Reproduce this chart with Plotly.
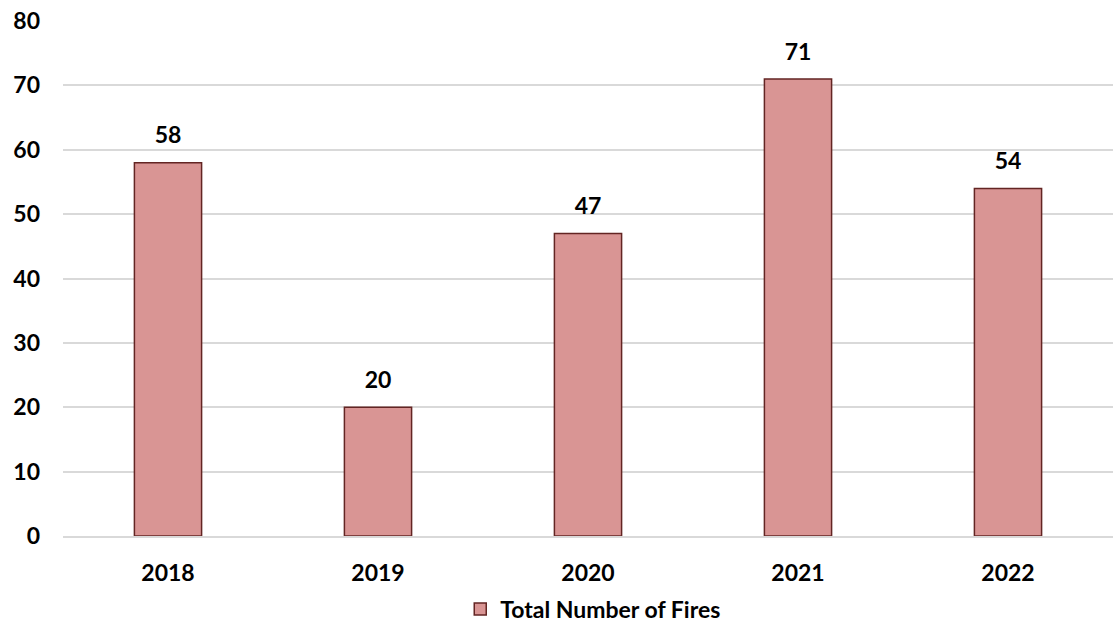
import plotly.graph_objects as go

years = ["2018", "2019", "2020", "2021", "2022"]
fires = [58, 20, 47, 71, 54]
y_ticks = [0, 10, 20, 30, 40, 50, 60, 70, 80]

FONT = "Lato"
FS = 23

fig = go.Figure()
fig.add_trace(go.Bar(
    x=years, y=fires, name="Total Number of Fires",
    marker=dict(color="#D99594", line=dict(color="#632523", width=1.5)),
    cliponaxis=False, width=0.32,
))
fig.add_trace(go.Scatter(
    x=years, y=fires, mode="markers+text", text=[str(v) for v in fires],
    textposition="top center", showlegend=False, hoverinfo="skip",
    marker=dict(size=20, opacity=0),
    textfont=dict(family=FONT, size=FS, color="black", weight="bold"),
    cliponaxis=False,
))

fig.update_layout(
    width=1113, height=622,
    margin=dict(l=63, r=0, t=21, b=86, autoexpand=False),
    plot_bgcolor="white", paper_bgcolor="white",
    font=dict(family=FONT, size=FS, color="black", weight="bold"),
    showlegend=True,
    legend=dict(orientation="h", x=0.505, xanchor="center", y=-0.1, yanchor="top",
                font=dict(family=FONT, size=FS, color="black", weight="bold")),
    xaxis=dict(type="category", showgrid=False, showline=True, linecolor="#D9D9D9",
               linewidth=1.5, ticks="", ticklabelstandoff=16,
               tickfont=dict(family=FONT, size=FS, color="black", weight="bold")),
    yaxis=dict(range=[0, 80], tickvals=y_ticks, showgrid=True, gridcolor="#D9D9D9",
               gridwidth=1.5, zeroline=False, showline=False, ticks="",
               ticklabelstandoff=22,
               tickfont=dict(family=FONT, size=FS, color="black", weight="bold")),
    bargap=0.68,
)

fig.write_html("out.html")
